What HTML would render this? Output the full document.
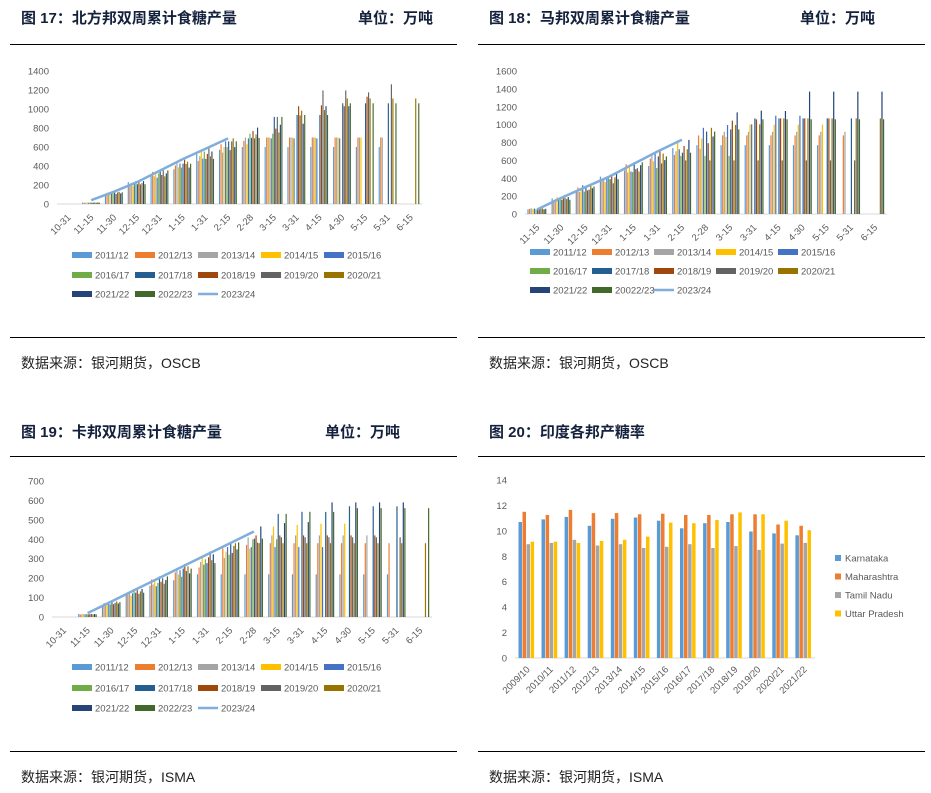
<!DOCTYPE html>
<html><head><meta charset="utf-8">
<style>
body{margin:0;width:931px;height:793px;background:#fff;overflow:hidden;position:relative;font-family:"Liberation Sans","Noto Sans CJK SC",sans-serif}
.t{position:absolute;font-weight:bold;font-size:15px;color:#14213d;font-family:"Liberation Sans","Noto Sans CJK SC",sans-serif}
.s{position:absolute;font-size:14px;color:#222}
.l{position:absolute;height:1px;background:#000}
svg{position:absolute;left:0;top:0}
</style></head><body>
<div class="t" style="left:21px;top:7px">图 17：北方邦双周累计食糖产量</div>
<div class="t" style="left:358px;top:7px">单位：万吨</div>
<div class="t" style="left:489px;top:7px">图 18：马邦双周累计食糖产量</div>
<div class="t" style="left:800px;top:7px">单位：万吨</div>
<div class="t" style="left:21px;top:421px">图 19：卡邦双周累计食糖产量</div>
<div class="t" style="left:325px;top:421px">单位：万吨</div>
<div class="t" style="left:489px;top:421px">图 20：印度各邦产糖率</div>
<div class="l" style="left:10px;top:44px;width:447px"></div>
<div class="l" style="left:478px;top:44px;width:447px"></div>
<div class="l" style="left:10px;top:456px;width:447px"></div>
<div class="l" style="left:478px;top:456px;width:447px"></div>
<div class="l" style="left:10px;top:337px;width:447px"></div>
<div class="l" style="left:478px;top:337px;width:447px"></div>
<div class="l" style="left:10px;top:751px;width:447px"></div>
<div class="l" style="left:478px;top:751px;width:447px"></div>
<div class="s" style="left:21px;top:353px">数据来源：银河期货，OSCB</div>
<div class="s" style="left:489px;top:353px">数据来源：银河期货，OSCB</div>
<div class="s" style="left:21px;top:767px">数据来源：银河期货，ISMA</div>
<div class="s" style="left:489px;top:767px">数据来源：银河期货，ISMA</div>
<svg id="g" width="931" height="793"></svg>
<script>
var C=['#5B9BD5','#ED7D31','#A5A5A5','#FFC000','#4472C4','#70AD47','#255E91','#9E480E','#636363','#997300','#264478','#43682B'];
var h='';
function txt(x,y,s,a,rot){h+='<text x="'+x+'" y="'+y+'" font-size="9.5" fill="#595959" font-family="Liberation Sans, sans-serif" text-anchor="'+(a||'end')+'"'+(rot?' transform="rotate(-45 '+x+' '+y+')"':'')+'>'+s+'</text>';}
function chart(o){
 var cw=(o.x1-o.x0)/o.cats.length;
 for(var v=0;v<=o.ymax;v+=o.step){var y=o.y0-v*o.sc;txt(o.x0-8,y+3.5,v);}
 h+='<line x1="'+o.x0+'" y1="'+o.y0+'" x2="'+o.x1+'" y2="'+o.y0+'" stroke="#d9d9d9"/>';
 o.cats.forEach(function(c,i){txt(o.x0+cw*(i+0.5)+3,o.y0+14,c,'end',1);});
 var bw=cw*0.8/12;
 for(var s=0;s<12;s++){for(var i=0;i<o.cats.length;i++){
  if(i<o.st||i>o.end[s])continue;
  var v=Math.min(o.max[s],(o.rate[s]*(i-o.st)+o.b)*(0.88+0.24*((s*7+i*3)%5)/5));
  var x=o.x0+cw*i+cw*0.1+bw*s,y=o.y0-v*o.sc;
  h+='<rect x="'+x.toFixed(2)+'" y="'+y.toFixed(1)+'" width="'+(bw*0.75).toFixed(2)+'" height="'+(v*o.sc).toFixed(1)+'" fill="'+C[s]+'"/>';
 }}
 var p=o.line.map(function(v,k){return (o.x0+cw*(o.lst+k+0.5)).toFixed(1)+','+(o.y0-v*o.sc).toFixed(1)}).join(' ');
 h+='<polyline points="'+p+'" fill="none" stroke="#7FAEDD" stroke-width="2.5"/>';
 var L=['2011/12','2012/13','2013/14','2014/15','2015/16','2016/17','2017/18','2018/19','2019/20','2020/21','2021/22',o.l22,'2023/24'];
 L.forEach(function(n,k){var x=o.lx+(k%5)*o.ls,y=o.ly[Math.floor(k/5)];
  var col=k<12?C[k]:'#7FAEDD';
  h+=k<12?'<rect x="'+x+'" y="'+(y-3)+'" width="20" height="6" fill="'+col+'"/>':'<line x1="'+x+'" y1="'+y+'" x2="'+(x+20)+'" y2="'+y+'" stroke="'+col+'" stroke-width="2.5"/>';
  txt(x+23,y+3.5,n,'start');});
}
var c16=['10-31','11-15','11-30','12-15','12-31','1-15','1-31','2-15','2-28','3-15','3-31','4-15','4-30','5-15','5-31','6-15'];
chart({x0:57,x1:422,y0:204,sc:19/200,ymax:1400,step:200,cats:c16,st:1,b:15,
 max:[600,700,700,700,690,740,1060,1130,1260,1110,1030,1060],
 end:[14,14,14,13,12,9,14,13,14,15,12,15],
 rate:[100,100,100,100,100,105,105,105,110,105,105,105],
 line:[40,130,230,350,470,580,690],lst:1,l22:'2022/23',lx:72,ls:63,ly:[255,275,294]});
chart({x0:525,x1:887,y0:214,sc:143/1600,ymax:1600,step:200,cats:['11-15','11-30','12-15','12-31','1-15','1-31','2-15','2-28','3-15','3-31','4-15','4-30','5-15','5-31','6-15'],st:0,b:60,
 max:[770,880,920,1000,1100,650,1070,1070,600,1070,1370,1060],
 end:[12,13,13,12,11,8,13,12,13,14,14,14],
 rate:[110,115,110,115,120,105,120,120,110,120,125,120],
 line:[50,180,300,420,560,700,830],lst:0,l22:'20022/23',lx:530,ls:62,ly:[252,271,290]});
chart({x0:52,x1:432,y0:617,sc:136/700,ymax:700,step:100,cats:c16,st:1,b:15,
 max:[220,380,420,480,360,400,570,420,410,380,590,560],
 end:[14,14,13,12,11,9,14,13,14,15,14,15],
 rate:[50,55,55,55,55,55,60,60,60,60,60,60],
 line:[20,80,140,200,260,320,380,440],lst:1,l22:'2022/23',lx:72,ls:63,ly:[667,688,708]});
(function(){
 var d=[[10.7,10.9,11.1,10.4,10.95,11.05,10.8,10.2,10.6,10.7,9.95,9.8,9.65],
 [11.5,11.25,11.65,11.4,11.4,11.3,11.35,11.25,11.25,11.3,11.3,10.5,10.4],
 [8.95,9.05,9.3,8.85,8.95,8.65,8.75,8.95,8.65,8.8,8.5,9.0,9.05],
 [9.15,9.15,9.05,9.2,9.3,9.55,10.65,10.6,10.85,11.45,11.3,10.8,10.05]];
 var col=['#5B9BD5','#ED7D31','#A5A5A5','#FFC000'];
 var x0=515,x1=815,y0=658,sc=178/14,cw=(x1-x0)/13;
 for(var v=0;v<=14;v+=2)txt(507,y0-v*sc+3.5,v);
 h+='<line x1="'+x0+'" y1="'+y0+'" x2="'+x1+'" y2="'+y0+'" stroke="#d9d9d9"/>';
 var yrs=['2009/10','2010/11','2011/12','2012/13','2013/14','2014/15','2015/16','2016/17','2017/18','2018/19','2019/20','2020/21','2021/22'];
 yrs.forEach(function(c,i){txt(x0+cw*(i+0.5)+4,y0+12,c,'end',1);
  for(var s=0;s<4;s++){var x=x0+cw*i+cw*0.15+s*cw*0.175;h+='<rect x="'+x.toFixed(1)+'" y="'+(y0-d[s][i]*sc).toFixed(1)+'" width="'+(cw*0.15).toFixed(1)+'" height="'+(d[s][i]*sc).toFixed(1)+'" fill="'+col[s]+'"/>';}});
 ['Karnataka','Maharashtra','Tamil Nadu','Uttar Pradesh'].forEach(function(n,k){var y=558+k*18.5;
  h+='<rect x="835" y="'+(y-3)+'" width="6" height="6" fill="'+col[k]+'"/>';txt(845,y+3.5,n,'start');});
})();
document.getElementById('g').innerHTML=h;
</script>
</body></html>
